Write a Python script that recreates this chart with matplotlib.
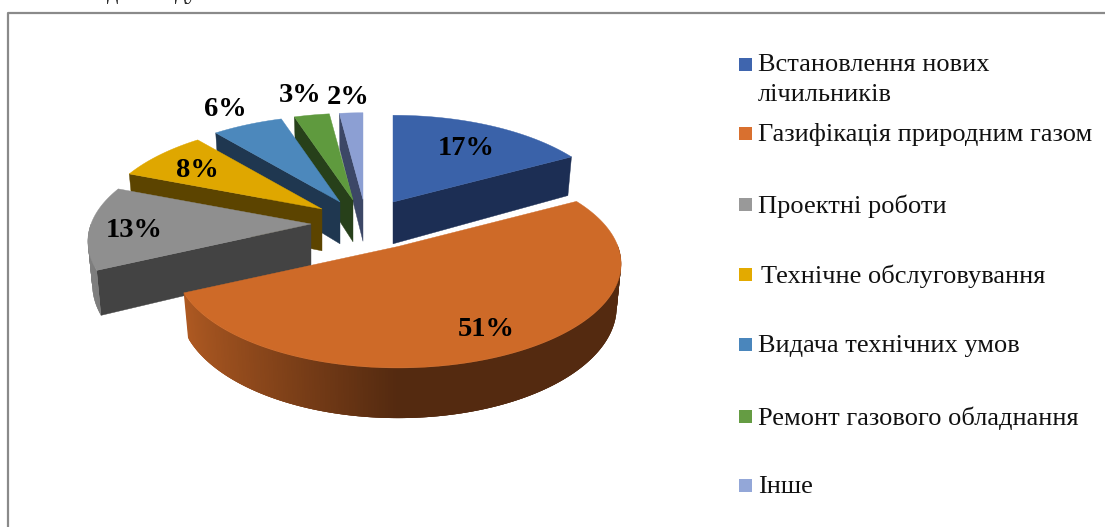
import numpy as np
import matplotlib
matplotlib.use("Agg")
import matplotlib.pyplot as plt
from matplotlib.colors import to_rgb

categories = ["Встановлення нових\nлічильників", "Газифікація природним газом", "Проектні роботи",
              "Технічне обслуговування", "Видача технічних умов", "Ремонт газового обладнання", "Інше"]
shares = [17, 51, 13, 8, 6, 3, 2]

top_colors = ["#3A62A9", "#CE6A28", "#8F8F8F", "#DFA700", "#4C88BC", "#5F9A3E", "#8C9FD3"]
side_colors = ["#1C2E54", "#542A10", "#434343", "#5C4400", "#1F3750", "#27401A", "#3C4766"]
legend_colors = ["#3F65AE", "#D9702F", "#999999", "#E3AA00", "#4A86BC", "#659C43", "#93A7D8"]

# where the point of each pulled-out slice lands, in pixels
apex_x = [393, 398, 311, 322, 340, 353, 363]
apex_y = [202, 246.5, 224, 209, 202, 200, 199.5]
# where each label sits along its slice's radius
label_r = [0.72, 0.78, 0.80, 0.75, 1.29, 1.33, 1.27]
legend_y = [80, 135, 206, 276, 346, 418, 487]
legend_sq = [64, 133, 204, 274, 344, 416, 485]
legend_tx = [758, 758, 758, 761, 758, 758, 758]

# projection of the tilted pie onto the picture
SCALE = 220
TILT = 0.46
DIST = 6.0
DEPTH = 0.19
SHRINK = 0.98


def project(apex, ang, r=1.0, low=False):
    x = r * np.cos(ang)
    y = r * np.sin(ang)
    s = SCALE / (1 + y / DIST)
    sx = s * SHRINK if low else s
    return apex[0] + x * sx, apex[1] - TILT * y * s + (DEPTH * s if low else 0)


def blend(color, side, t):
    c1 = np.array(to_rgb(color))
    c2 = np.array(to_rgb(side))
    return tuple(c1 + (c2 - c1) * t)


def draw_slice(ax, apex, a0, a1, top, side):
    # a0 < a1 in degrees, counter-clockwise
    ang = np.radians(np.linspace(a0, a1, 300))

    # straight side faces, only those turned to the viewer
    for a, visible in [(a1, np.cos(np.radians(a1)) < -1e-6), (a0, np.cos(np.radians(a0)) > 1e-6)]:
        if visible:
            a = np.radians(a)
            px, py = project(apex, a)
            qx, qy = project(apex, a, low=True)
            ax.fill([apex[0], px, qx, apex[0]], [apex[1], py, qy, apex[1] + DEPTH * SCALE],
                    color=side, lw=0.3, zorder=1)

    # curved rim, lighter towards the left; each piece overlaps the next to hide seams
    for i in range(len(ang) - 3):
        m = ang[i + 1]
        if np.sin(m) >= 0.0:
            continue
        px0, py0 = project(apex, ang[i])
        px1, py1 = project(apex, ang[i + 3])
        qx0, qy0 = project(apex, ang[i], low=True)
        qx1, qy1 = project(apex, ang[i + 3], low=True)
        t = np.clip((np.cos(m) + 0.95) / 0.95, 0, 1)
        col = blend(top, side, 0.22 + 0.78 * t)
        ax.fill([px0, px1, qx1, qx0], [py0, py1, qy1, qy0], color=col, lw=0, zorder=1)

    xs, ys = project(apex, ang)
    ax.fill(np.r_[apex[0], xs], np.r_[apex[1], ys], color=top, lw=0.3, zorder=1)


plt.rcParams["font.family"] = ["Liberation Serif", "DejaVu Serif"]
fig = plt.figure(figsize=(11.05, 5.27), dpi=100)
ax = fig.add_axes([0, 0, 1, 1])
ax.set_xlim(0, 1105)
ax.set_ylim(527, 0)
ax.axis("off")

# frame of the chart, cut off by the crop on the right and bottom
ax.plot([7.5, 7.5, 1105], [527, 12.5, 12.5], color="#8a8a8a", lw=1.6, zorder=0)

# slice angles, clockwise from twelve o'clock
total = sum(shares)
edges = 90 - 360 * np.cumsum([0] + shares) / total

# back to front
for i in [6, 5, 4, 3, 2, 0, 1]:
    draw_slice(ax, (apex_x[i], apex_y[i]), edges[i + 1], edges[i], top_colors[i], side_colors[i])

for i in range(len(shares)):
    mid = np.radians((edges[i] + edges[i + 1]) / 2)
    lx, ly = project((apex_x[i], apex_y[i]), mid, label_r[i])
    ax.text(lx, ly + 3.5, f"{shares[i]}%", fontsize=20.5, fontweight="bold", color="black",
            ha="center", va="center", zorder=3)

# legend
for i, name in enumerate(categories):
    sy = legend_sq[i]
    ax.fill([739, 752, 752, 739], [sy - 6.5, sy - 6.5, sy + 6.5, sy + 6.5], color=legend_colors[i], lw=0, zorder=2)
    ax.text(legend_tx[i], legend_y[i], name, fontsize=19, color="#111111", ha="left", va="center",
            linespacing=1.48, zorder=3)

# remains of the sentence above the chart
ax.text(113, -1, "д", fontsize=16, ha="center", va="baseline", color="#111111")
ax.text(186, -1, "ду", fontsize=16, ha="center", va="baseline", color="#111111")

fig.savefig("out.png", dpi=100, facecolor="white")
plt.close(fig)
